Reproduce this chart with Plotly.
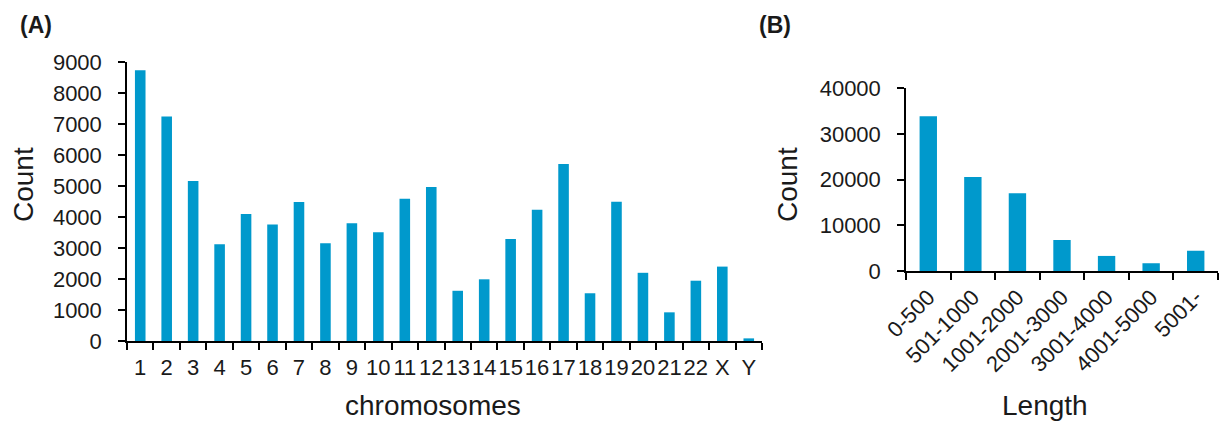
import plotly.graph_objects as go

# Panel A data
chromosomes = ["1", "2", "3", "4", "5", "6", "7", "8", "9", "10", "11", "12",
               "13", "14", "15", "16", "17", "18", "19", "20", "21", "22", "X", "Y"]
chrom_counts = [8730, 7240, 5160, 3120, 4100, 3760, 4480, 3150, 3800, 3510, 4590, 4970,
                1620, 1990, 3290, 4230, 5710, 1540, 4490, 2200, 925, 1945, 2400, 85]

# Panel B data
length_bins = ["0-500", "501-1000", "1001-2000", "2001-3000", "3001-4000", "4001-5000", "5001-"]
length_counts = [33900, 20600, 17000, 6800, 3300, 1700, 4450]

W, H = 1226, 424
BAR = "#0099CC"
FONT = "Liberation Sans, Arial, sans-serif"
TXT = "#1a1a1a"

def px(x):
    return x / W

def py(y):
    return 1 - y / H

fig = go.Figure()
fig.add_trace(go.Bar(x=chromosomes, y=chrom_counts, width=0.4, marker_color=BAR,
                     marker_line_width=0, xaxis="x", yaxis="y", showlegend=False))
fig.add_trace(go.Bar(x=length_bins, y=length_counts, width=0.39, marker_color=BAR,
                     marker_line_width=0, xaxis="x2", yaxis="y2", showlegend=False))

axis_common = dict(showgrid=False, zeroline=False, showline=True, linecolor="black",
                   linewidth=1.5, ticks="outside", ticklen=7, tickwidth=1.5,
                   tickcolor="black", automargin=False,
                   tickfont=dict(family=FONT, size=22, color=TXT))

fig.update_layout(
    width=W, height=H,
    margin=dict(l=0, r=0, t=0, b=0, pad=0, autoexpand=False),
    paper_bgcolor="white", plot_bgcolor="white",
    font=dict(family=FONT, color=TXT),
    xaxis=dict(domain=[px(127), px(762)], anchor="y", type="category",
               tickmode="array", tickvals=chromosomes, ticktext=chromosomes,
               tickangle=0, tickson="boundaries", range=[-0.5, 23.5],
               ticklabelstandoff=6, **axis_common),
    yaxis=dict(domain=[py(341), py(62)], anchor="x", range=[0, 9000],
               tickvals=list(range(0, 9001, 1000)), tickformat="d",
               ticklabelstandoff=12, **axis_common),
    xaxis2=dict(domain=[px(906), px(1218)], anchor="y2", type="category",
                tickmode="array", tickvals=length_bins, ticktext=length_bins,
                tickson="boundaries", range=[-0.5, 6.5], tickangle=-45,
                ticklabelstandoff=3, **axis_common),
    yaxis2=dict(domain=[py(271), py(88.3)], anchor="x2", range=[0, 40000],
                tickvals=list(range(0, 40001, 10000)), tickformat="d",
                ticklabelstandoff=12, **axis_common),
)

ann = [
    dict(text="<b>(A)</b>", x=px(18), y=py(25), xanchor="left", yanchor="middle",
         font=dict(size=23)),
    dict(text="<b>(B)</b>", x=px(757), y=py(25), xanchor="left", yanchor="middle",
         font=dict(size=23)),
    dict(text="Count", x=px(23), y=py(185), textangle=-90, xanchor="center",
         yanchor="middle", font=dict(size=28)),
    dict(text="Count", x=px(787), y=py(185), textangle=-90, xanchor="center",
         yanchor="middle", font=dict(size=28)),
    dict(text="chromosomes", x=px(433), y=py(405), xanchor="center", yanchor="middle",
         font=dict(size=28)),
    dict(text="Length", x=px(1045), y=py(405), xanchor="center", yanchor="middle",
         font=dict(size=28)),
]
for a in ann:
    a.update(xref="paper", yref="paper", showarrow=False)
    a["font"].update(family=FONT, color=TXT)
fig.update_layout(annotations=ann)

fig.write_html(
    "out.html",
    config={"displayModeBar": False},
    post_script="document.body.style.margin='0';document.body.style.overflow='hidden';",
)
